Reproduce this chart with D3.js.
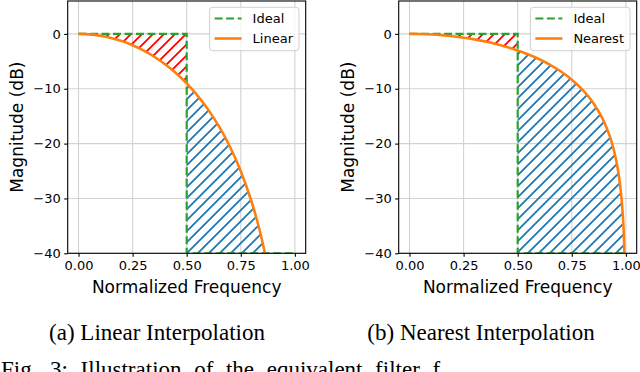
<!DOCTYPE html>
<html>
<head>
<meta charset="utf-8">
<script src="https://cdn.jsdelivr.net/npm/d3@7"></script>
<style>
  body { margin: 0; background: #fff; }
  svg { display: block; }
</style>
</head>
<body>
<script>
/* ------------------------------- Chart data ------------------------------- */
const xTicks = [0, 0.25, 0.5, 0.75, 1.0];
const yTicks = [0, -10, -20, -30, -40];
const idealFreq = [0, 0.5, 0.5, 1.0];
const idealDb = [0, 0, -40, -40];
const linearFreq = [0, 0.05, 0.1, 0.15, 0.2, 0.25, 0.3, 0.35, 0.4, 0.45, 0.5, 0.55, 0.6, 0.65, 0.7, 0.75, 0.8, 0.825, 0.84, 0.86, 0.87];
const linearDb = [0, -0.08, -0.32, -0.73, -1.31, -2.06, -3.01, -4.16, -5.52, -7.14, -9.03, -11.25, -13.85, -16.92, -20.58, -25.03, -30.60, -33.98, -36.26, -39.68, -41.59];
const nearestFreq = [0, 0.05, 0.1, 0.15, 0.2, 0.25, 0.3, 0.35, 0.4, 0.45, 0.5, 0.55, 0.6, 0.65, 0.7, 0.75, 0.8, 0.85, 0.9, 0.925, 0.94, 0.95, 0.96, 0.97, 0.975, 0.98, 0.985, 0.99, 0.995];
const nearestDb = [0, -0.03, -0.11, -0.24, -0.44, -0.69, -1.00, -1.39, -1.84, -2.38, -3.01, -3.75, -4.62, -5.64, -6.86, -8.34, -10.20, -12.64, -16.11, -18.60, -20.53, -22.11, -24.04, -26.54, -28.12, -30.06, -32.56, -36.08, -42.10];
const cutoff = 0.5;

/* ----------------------------- Window layout ------------------------------ */
const W = 640, H = 372;
const green = "#2ca02c", orange = "#ff7f0e", blue = "#1f77b4", redColor = "#ff0000";
const tickFont = "13px 'DejaVu Sans'";
const axTop = 1, axBottom = 253.3, axW = 238;

const svg = d3.select("body").append("svg").attr("width", W).attr("height", H);

// hatch patterns
const defs = svg.append("defs");
[["hatchRed", redColor], ["hatchBlue", blue]].forEach(([id, c]) => {
    const p = defs.append("pattern").attr("id", id)
        .attr("patternUnits", "userSpaceOnUse")
        .attr("width", 11).attr("height", 11);
    p.append("path")
        .attr("d", "M-2,13 L13,-2 M-2,2 L2,-2 M9,13 L13,9")
        .attr("stroke", c).attr("stroke-width", 1.8).attr("fill", "none");
});

const panels = [
    { left: 67.7, freq: linearFreq, db: linearDb, name: "Linear", caption: "(a) Linear Interpolation", capX: 157 },
    { left: 398.7, freq: nearestFreq, db: nearestDb, name: "Nearest", caption: "(b) Nearest Interpolation", capX: 481 }
];

panels.forEach((pn, i) => {
    const x = d3.scaleLinear().domain([-0.05, 1.05]).range([pn.left, pn.left + axW]);
    const y = d3.scaleLinear().domain([-40, 6]).range([axBottom, axTop]);
    const g = svg.append("g");

    defs.append("clipPath").attr("id", "clip" + i)
        .append("rect").attr("x", pn.left).attr("y", axTop)
        .attr("width", axW).attr("height", axBottom - axTop);

    // grid
    g.selectAll(".gx").data(xTicks).enter().append("line")
        .attr("x1", d => x(d)).attr("x2", d => x(d))
        .attr("y1", axTop).attr("y2", axBottom)
        .attr("stroke", "#d3d3d3").attr("stroke-width", 1.1);
    g.selectAll(".gy").data(yTicks).enter().append("line")
        .attr("x1", pn.left).attr("x2", pn.left + axW)
        .attr("y1", d => y(d)).attr("y2", d => y(d))
        .attr("stroke", "#d3d3d3").attr("stroke-width", 1.1);

    const pts = pn.freq.map((f, k) => ({ f: f, v: pn.db[k] }));
    const plot = g.append("g").attr("clip-path", `url(#clip${i})`);

    // hatched regions
    const passPts = pts.filter(d => d.f <= cutoff);
    const stopPts = pts.filter(d => d.f >= cutoff);
    plot.append("path").datum(passPts)
        .attr("d", d3.area().x(d => x(d.f)).y0(y(0)).y1(d => y(d.v)).curve(d3.curveMonotoneX))
        .attr("fill", "url(#hatchRed)");
    plot.append("path").datum(stopPts)
        .attr("d", d3.area().x(d => x(d.f)).y0(y(-40)).y1(d => y(d.v)).curve(d3.curveMonotoneX))
        .attr("fill", "url(#hatchBlue)");

    // ideal
    const ideal = idealFreq.map((f, k) => [f, idealDb[k]]);
    plot.append("path").datum(ideal)
        .attr("d", d3.line().x(d => x(d[0])).y(d => y(d[1])))
        .attr("fill", "none").attr("stroke", green)
        .attr("stroke-width", 2.2).attr("stroke-dasharray", "8,3.5");

    // response
    plot.append("path").datum(pts)
        .attr("d", d3.line().x(d => x(d.f)).y(d => y(d.v)).curve(d3.curveMonotoneX))
        .attr("fill", "none").attr("stroke", orange).attr("stroke-width", 2.6);

    // frame
    g.append("rect").attr("x", pn.left).attr("y", axTop)
        .attr("width", axW).attr("height", axBottom - axTop)
        .attr("fill", "none").attr("stroke", "#000").attr("stroke-width", 1.1);

    // axes
    const xAxis = d3.axisBottom(x).tickValues(xTicks).tickFormat(d3.format(".2f")).tickSize(3.5).tickPadding(3.5);
    const yAxis = d3.axisLeft(y).tickValues(yTicks).tickFormat(d => d < 0 ? "\u2212" + (-d) : d).tickSize(3.5).tickPadding(3.5);
    const gx = g.append("g").attr("transform", `translate(0,${axBottom})`).call(xAxis);
    const gy = g.append("g").attr("transform", `translate(${pn.left},0)`).call(yAxis);
    [gx, gy].forEach(a => {
        a.select(".domain").remove();
        a.selectAll(".tick line").attr("stroke", "#000").attr("stroke-width", 1.1);
        a.selectAll("text").style("font", tickFont).attr("fill", "#000");
    });

    g.append("text").attr("x", pn.left + axW / 2).attr("y", 292.5)
        .attr("text-anchor", "middle")
        .style("font", "17px 'DejaVu Sans'").text("Normalized Frequency");
    g.append("text")
        .attr("transform", `translate(${pn.left - 44.5},${(axTop + axBottom) / 2}) rotate(-90)`)
        .attr("text-anchor", "middle")
        .style("font", "17px 'DejaVu Sans'").text("Magnitude (dB)");

    // legend
    const right = pn.left + axW - 6.7;
    const lg = g.append("g");
    const box = lg.append("rect").attr("y", 7.3).attr("height", 43.4)
        .attr("rx", 3).attr("fill", "#fff").attr("fill-opacity", 0.8)
        .attr("stroke", "#d0d0d0").attr("stroke-width", 1);
    const items = [["Ideal", green, "8,3.5"], [pn.name, orange, null]];
    const labels = items.map((it, k) => lg.append("text")
        .attr("y", 18.5 + k * 20).attr("dy", "0.36em")
        .style("font", tickFont).text(it[0]));
    const tw = d3.max(labels, t => t.node().getComputedTextLength());
    const textX = right - 6 - tw;
    const hx = textX - 11 - 27;
    labels.forEach(t => t.attr("x", textX));
    box.attr("x", hx - 5).attr("width", right - (hx - 5));
    items.forEach((it, k) => {
        lg.append("line").attr("x1", hx).attr("x2", hx + 27)
            .attr("y1", 18.5 + k * 20).attr("y2", 18.5 + k * 20)
            .attr("stroke", it[1]).attr("stroke-width", it[2] ? 2.2 : 2.6)
            .attr("stroke-dasharray", it[2]);
    });

    // subcaption
    svg.append("text").attr("x", pn.capX).attr("y", 340)
        .attr("text-anchor", "middle")
        .style("font", "23px 'Liberation Serif'").text(pn.caption);
});

// figure caption (cut off at the bottom edge)
const fig = svg.append("text").attr("x", 1).attr("y", 377)
    .style("font", "23px 'Liberation Serif'")
    .text("Fig. 3: Illustration of the equivalent filter f");
const natural = fig.node().getComputedTextLength();
fig.attr("word-spacing", Math.max(0, (447 - 1 - natural) / 8));
</script>
</body>
</html>
